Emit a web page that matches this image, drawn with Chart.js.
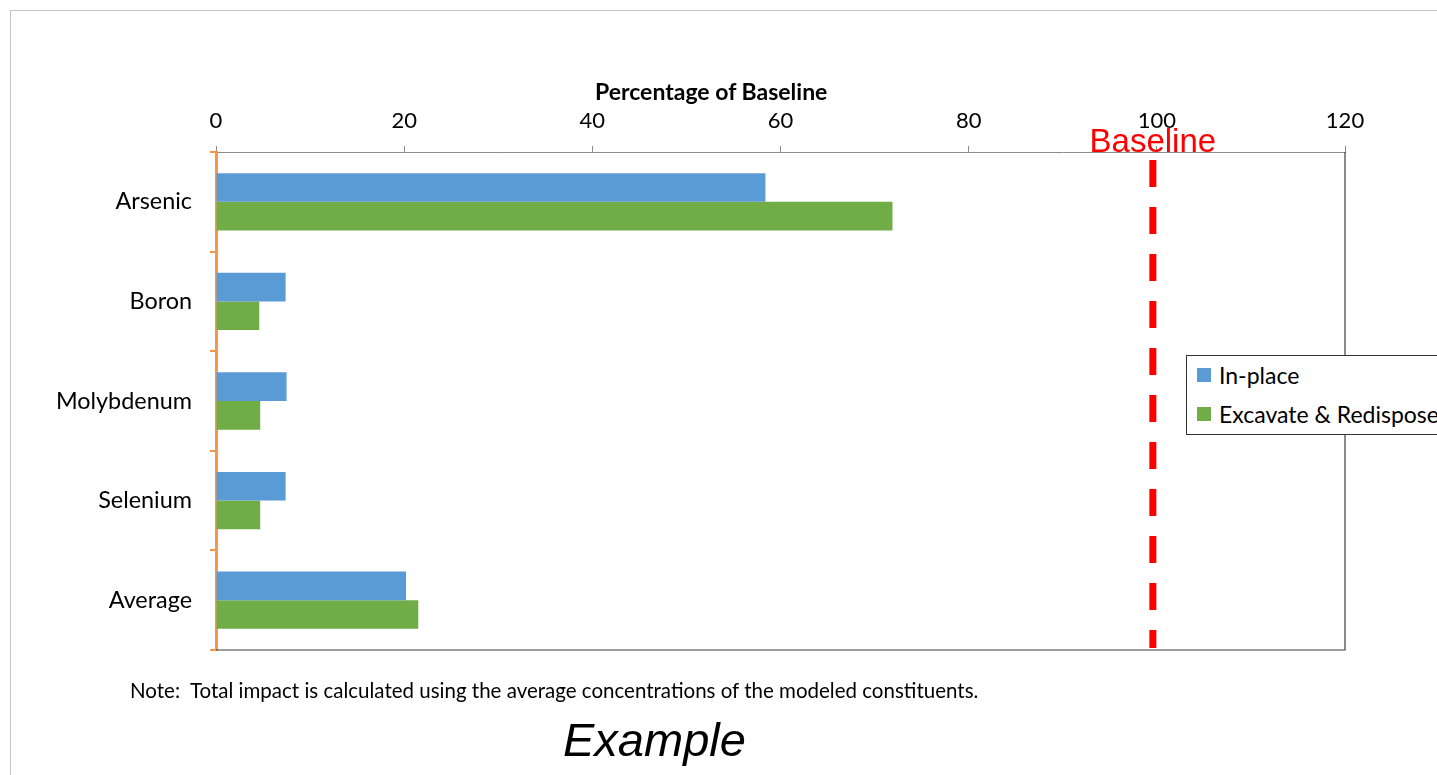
<!DOCTYPE html>
<html>
<head>
<meta charset="utf-8">
<title>Percentage of Baseline</title>
<script src="https://cdn.jsdelivr.net/npm/chart.js@4.4.1/dist/chart.umd.min.js"></script>
<style>
  html, body { margin: 0; padding: 0; background: #fff; }
  body { width: 1437px; height: 775px; position: relative; overflow: hidden; font-family: Lato, "Open Sans", sans-serif; }
  #frame { position: absolute; left: 10px; top: 10px; width: 1500px; height: 800px; border: 1px solid #c4c4c4; }
  #wrap { position: absolute; left: 0; top: 0; width: 1437px; height: 775px; }
  #axisTitle { position: absolute; left: 595px; top: 77px; font-size: 23px; font-weight: bold; color: #000; white-space: nowrap; line-height: 28px; }
  #legend { position: absolute; left: 1186px; top: 355px; width: 270px; height: 80px; border: 1px solid #333; background: #fff; box-sizing: border-box; font-size: 23px; color: #000; }
  #legend .item { position: absolute; left: 10px; display: flex; align-items: center; white-space: nowrap; line-height: 28px; }
  #legend .sw { width: 14px; height: 14px; margin-right: 8px; }
  #note { position: absolute; left: 130px; top: 678px; font-size: 20.5px; color: #000; white-space: nowrap; line-height: 24px; }
  #example { position: absolute; left: 563px; top: 716px; font-family: "Liberation Sans", Arial, sans-serif; font-style: italic; font-size: 47px; color: #000; line-height: 1; }
</style>
</head>
<body>
<div id="frame"></div>
<div id="wrap"><canvas id="chart" width="1437" height="775"></canvas></div>
<div id="axisTitle">Percentage of Baseline</div>
<div id="legend"></div>
<div id="note">Note:&nbsp; Total impact is calculated using the average concentrations of the modeled constituents.</div>
<div id="example">Example</div>
<script>
// constituents and their impact as a percentage of the baseline
var categories = ["Arsenic", "Boron", "Molybdenum", "Selenium", "Average"];
var inPlace = [58.4, 7.4, 7.5, 7.4, 20.2];
var excavate = [71.9, 4.6, 4.7, 4.7, 21.5];
var seriesNames = ["In-place", "Excavate & Redispose"];
var seriesColors = ["#5b9bd5", "#70ad47"];
var axisMin = 0, axisMax = 120, axisStep = 20;
var baselineValue = 100;
var baselineLabel = "Baseline";

// plot frame (right + bottom edges) and the dashed baseline marker
var framePlugin = {
  id: "frameLines",
  beforeDatasetsDraw: function (chart) {
    var a = chart.chartArea, ctx = chart.ctx;
    ctx.save();
    ctx.strokeStyle = "#404040";
    ctx.lineWidth = 1.2;
    ctx.beginPath();
    ctx.moveTo(a.left, a.bottom);
    ctx.lineTo(a.right, a.bottom);
    ctx.lineTo(a.right, a.top);
    ctx.stroke();
    ctx.restore();
  },
  afterDatasetsDraw: function (chart) {
    var a = chart.chartArea, ctx = chart.ctx;
    var x = chart.scales.x.getPixelForValue(baselineValue) - 4;
    ctx.save();
    ctx.strokeStyle = "#ff0000";
    ctx.lineWidth = 7;
    ctx.setLineDash([27, 20]);
    ctx.beginPath();
    ctx.moveTo(x, a.top + 8);
    ctx.lineTo(x, a.bottom - 2);
    ctx.stroke();
    ctx.setLineDash([]);
    ctx.fillStyle = "#ff0000";
    ctx.font = "33px 'Liberation Sans', Arial, sans-serif";
    ctx.textAlign = "center";
    ctx.textBaseline = "alphabetic";
    ctx.fillText(baselineLabel, x, a.top);
    ctx.restore();
  }
};

var ctx = document.getElementById("chart").getContext("2d");
var chart = new Chart(ctx, {
  type: "bar",
  data: {
    labels: categories,
    datasets: [
      { label: seriesNames[0], data: inPlace, backgroundColor: seriesColors[0] },
      { label: seriesNames[1], data: excavate, backgroundColor: seriesColors[1] }
    ]
  },
  options: {
    indexAxis: "y",
    responsive: false,
    animation: false,
    maintainAspectRatio: false,
    layout: { padding: { left: 0, top: 72, right: 92, bottom: 125 } },
    datasets: { bar: { categoryPercentage: 0.575, barPercentage: 1 } },
    plugins: { legend: { display: false }, tooltip: { enabled: false } },
    scales: {
      x: {
        position: "top",
        min: axisMin, max: axisMax,
        afterFit: function (s) { s.height = 80; },
        ticks: { stepSize: axisStep, color: "#000", padding: 12, font: { family: "Lato", size: 22 } },
        grid: { drawOnChartArea: false, drawTicks: true, tickLength: 6, color: "#8c8c8c" },
        border: { display: true, color: "#8c8c8c", width: 1 }
      },
      y: {
        afterFit: function (s) { s.width = 216; },
        ticks: { color: "#000", padding: 18, font: { family: "Lato", size: 23.4 } },
        grid: { drawOnChartArea: false, drawTicks: true, tickLength: 6, color: "#f79646", lineWidth: 2, offset: true },
        border: { display: true, color: "#f79646", width: 3 }
      }
    }
  },
  plugins: [framePlugin]
});

// legend box
var legendEl = document.getElementById("legend");
chart.data.datasets.forEach(function (ds, i) {
  var item = document.createElement("div");
  item.className = "item";
  item.style.top = (i === 0 ? 5 : 44) + "px";
  item.innerHTML = '<span class="sw" style="background:' + ds.backgroundColor + '"></span><span>' + ds.label + '</span>';
  legendEl.appendChild(item);
});
</script>
</body>
</html>
